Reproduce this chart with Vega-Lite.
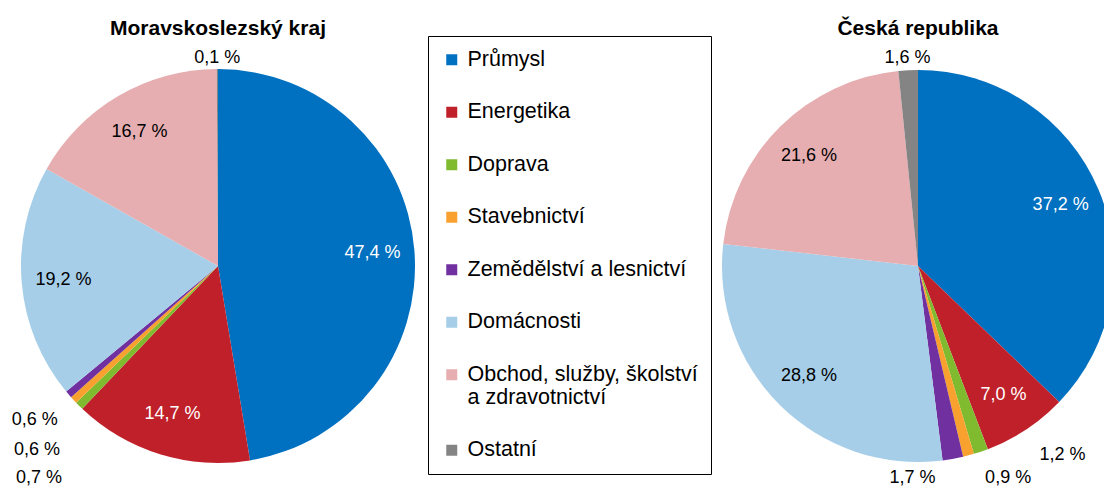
{
  "$schema": "https://vega.github.io/schema/vega-lite/v6.json",
  "width": 1104,
  "height": 444,
  "padding": {"top": 44, "left": 0, "right": 0, "bottom": 0},
  "autosize": {"type": "none"},
  "background": "white",
  "config": {
    "font": "Liberation Sans",
    "view": {"stroke": null},
    "text": {"font": "Liberation Sans"}
  },
  "datasets": {
    "shares": [
      {"region": "MSK", "idx": 1, "category": "Průmysl", "value": 47.4},
      {"region": "MSK", "idx": 2, "category": "Energetika", "value": 14.7},
      {"region": "MSK", "idx": 3, "category": "Doprava", "value": 0.7},
      {"region": "MSK", "idx": 4, "category": "Stavebnictví", "value": 0.6},
      {"region": "MSK", "idx": 5, "category": "Zemědělství a lesnictví", "value": 0.6},
      {"region": "MSK", "idx": 6, "category": "Domácnosti", "value": 19.2},
      {"region": "MSK", "idx": 7, "category": "Obchod, služby, školství a zdravotnictví", "value": 16.7},
      {"region": "MSK", "idx": 8, "category": "Ostatní", "value": 0.1},
      {"region": "CR", "idx": 1, "category": "Průmysl", "value": 37.2},
      {"region": "CR", "idx": 2, "category": "Energetika", "value": 7.0},
      {"region": "CR", "idx": 3, "category": "Doprava", "value": 1.2},
      {"region": "CR", "idx": 4, "category": "Stavebnictví", "value": 0.9},
      {"region": "CR", "idx": 5, "category": "Zemědělství a lesnictví", "value": 1.7},
      {"region": "CR", "idx": 6, "category": "Domácnosti", "value": 28.8},
      {"region": "CR", "idx": 7, "category": "Obchod, služby, školství a zdravotnictví", "value": 21.6},
      {"region": "CR", "idx": 8, "category": "Ostatní", "value": 1.6}
    ],
    "titles": [
      {"region": "MSK", "name": "Moravskoslezský kraj"},
      {"region": "CR", "name": "Česká republika"}
    ]
  },
  "encoding": {
    "x": {
      "field": "region",
      "type": "nominal",
      "scale": {"type": "point", "domain": ["MSK", "CR"], "range": [218, 918], "padding": 0},
      "axis": null
    }
  },
  "layer": [
    {
      "data": {"name": "shares"},
      "transform": [
        {"stack": "value", "groupby": ["region"], "sort": [{"field": "idx", "order": "ascending"}], "as": ["v0", "v1"]},
        {"calculate": "(datum.v0 + datum.v1) / 2", "as": "mid"},
        {"calculate": "replace(format(datum.value, '.1f'), '.', ',') + ' %'", "as": "label"}
      ],
      "layer": [
        {
          "transform": [{"filter": "datum.region === 'MSK'"}],
          "mark": {"type": "arc", "outerRadius": 197},
          "encoding": {
            "theta": {"field": "v0", "type": "quantitative", "stack": null, "scale": {"domain": [0, 100]}},
            "theta2": {"field": "v1"},
            "color": {
              "field": "category",
              "type": "nominal",
              "scale": {
                "domain": ["Průmysl", "Energetika", "Doprava", "Stavebnictví", "Zemědělství a lesnictví", "Domácnosti", "Obchod, služby, školství a zdravotnictví", "Ostatní"],
                "range": ["#0070C0", "#C0202A", "#7FBA2F", "#F9A12E", "#7030A0", "#A6CEE8", "#E6AEB1", "#848484"]
              },
              "legend": {
                "orient": "none",
                "legendX": 428,
                "legendY": -8,
                "title": null,
                "symbolType": "square",
                "symbolSize": 121,
                "symbolStrokeWidth": 0,
                "labelFont": "Liberation Sans",
                "labelFontSize": 21.5,
                "labelColor": "black",
                "labelOffset": 5,
                "labelLimit": 400,
                "rowPadding": 29.5,
                "padding": 13,
                "strokeColor": "black",
                "fillColor": "white",
                "labelExpr": "datum.label === 'Obchod, služby, školství a zdravotnictví' ? ['Obchod, služby, školství', 'a zdravotnictví'] : datum.label",
                "encoding": {
                  "labels": {
                    "update": {
                      "dy": {"signal": "datum.value === 'Obchod, služby, školství a zdravotnictví' ? 12.5 : 0"},
                      "lineHeight": {"value": 25}
                    }
                  }
                }
              }
            }
          }
        },
        {
          "transform": [{"filter": "datum.region === 'CR'"}],
          "mark": {"type": "arc", "outerRadius": 196},
          "encoding": {
            "theta": {"field": "v0", "type": "quantitative", "stack": null, "scale": {"domain": [0, 100]}},
            "theta2": {"field": "v1"},
            "color": {
              "field": "category",
              "type": "nominal",
              "scale": {
                "domain": ["Průmysl", "Energetika", "Doprava", "Stavebnictví", "Zemědělství a lesnictví", "Domácnosti", "Obchod, služby, školství a zdravotnictví", "Ostatní"],
                "range": ["#0070C0", "#C00000", "#7FBA2F", "#F9A12E", "#7030A0", "#A6CEE8", "#E6AEB1", "#848484"]
              },
              "legend": null
            }
          }
        },
        {
          "encoding": {
            "theta": {"field": "mid", "type": "quantitative"},
            "text": {"field": "label"},
            "color": {
              "condition": {"test": "datum.category === 'Průmysl' || datum.category === 'Energetika'", "value": "white"},
              "value": "black"
            }
          },
          "layer": [
            {
              "transform": [{"filter": "indexof(['Průmysl', 'Energetika', 'Domácnosti', 'Obchod, služby, školství a zdravotnictví'], datum.category) >= 0"}],
              "mark": {"type": "text", "radius": 155, "fontSize": 18}
            },
            {
              "transform": [{"filter": "datum.category === 'Ostatní'"}],
              "mark": {"type": "text", "radius": 208, "fontSize": 18}
            },
            {
              "transform": [{"filter": "datum.region === 'MSK' && datum.category === 'Doprava'"}],
              "mark": {"type": "text", "radius": 210, "fontSize": 18, "dx": -31, "dy": 63}
            },
            {
              "transform": [{"filter": "datum.region === 'MSK' && datum.category === 'Stavebnictví'"}],
              "mark": {"type": "text", "radius": 210, "fontSize": 18, "dx": -27, "dy": 41}
            },
            {
              "transform": [{"filter": "datum.region === 'MSK' && datum.category === 'Zemědělství a lesnictví'"}],
              "mark": {"type": "text", "radius": 210, "fontSize": 18, "dx": -24, "dy": 17}
            },
            {
              "transform": [{"filter": "datum.region === 'CR' && datum.category === 'Doprava'"}],
              "mark": {"type": "text", "radius": 210, "fontSize": 18, "dx": 77, "dy": -10}
            },
            {
              "transform": [{"filter": "datum.region === 'CR' && datum.category === 'Stavebnictví'"}],
              "mark": {"type": "text", "radius": 210, "fontSize": 18, "dx": 36, "dy": 9}
            },
            {
              "transform": [{"filter": "datum.region === 'CR' && datum.category === 'Zemědělství a lesnictví'"}],
              "mark": {"type": "text", "radius": 210, "fontSize": 18, "dx": -43, "dy": 5}
            }
          ]
        }
      ]
    },
    {
      "data": {"name": "titles"},
      "mark": {"type": "text", "fontSize": 21, "fontWeight": "bold", "baseline": "alphabetic", "align": "center", "dy": -231, "color": "black"},
      "encoding": {"text": {"field": "name"}}
    }
  ],
  "resolve": {"scale": {"color": "independent"}}
}
